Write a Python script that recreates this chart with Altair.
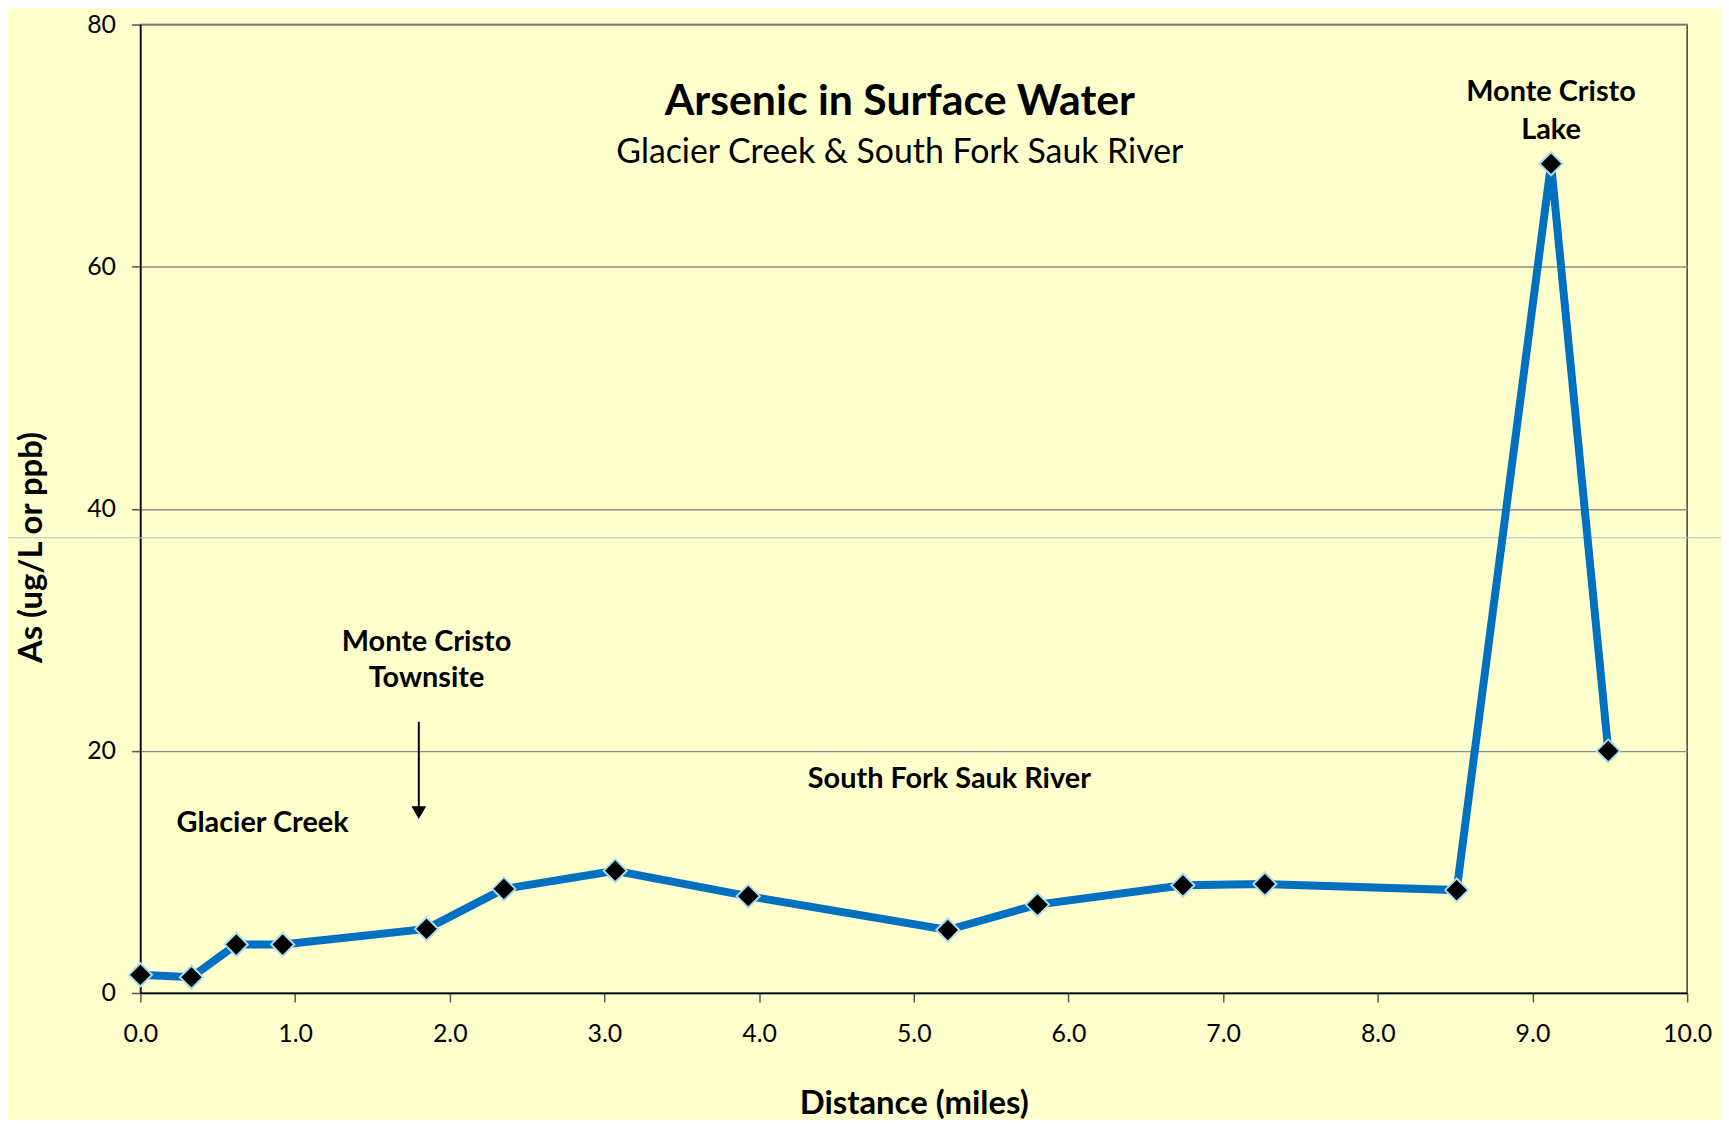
import altair as alt
import pandas as pd

# Data
distance = [0.0, 0.33, 0.62, 0.92, 1.85, 2.35, 3.07, 3.93, 5.22, 5.80, 6.74, 7.27, 8.51, 9.12, 9.49]
arsenic = [1.5, 1.3, 4.0, 4.0, 5.3, 8.6, 10.1, 8.0, 5.2, 7.3, 8.9, 9.0, 8.5, 68.5, 20.0]

x_ticks = [0, 1, 2, 3, 4, 5, 6, 7, 8, 9, 10]
y_ticks = [0, 20, 40, 60, 80]

title_text = "Arsenic in Surface Water"
subtitle_text = "Glacier Creek & South Fork Sauk River"

label_text = ["Monte Cristo", "Lake", "Monte Cristo", "Townsite", "Glacier Creek", "South Fork Sauk River"]
label_x = [9.12, 9.12, 1.85, 1.85, 0.79, 5.23]
label_y = [74.4, 71.3, 29.0, 26.0, 14.0, 17.7]

arrow_x = [1.80]
arrow_y_top = [22.4]
arrow_y_bottom = [14.9]

faint_line_y = [37.6]

FONT = "Lato"
BG = "#FFFFCC"

df = pd.DataFrame({"distance": distance, "arsenic": arsenic})
labels = pd.DataFrame({"text": label_text, "x": label_x, "y": label_y})
arrow = pd.DataFrame({"x": arrow_x, "y": arrow_y_top, "y2": arrow_y_bottom})
faint = pd.DataFrame({"y": faint_line_y})
titles = pd.DataFrame({"text": [title_text, subtitle_text], "x": [4.91, 4.91], "y": [73.6, 69.4],
                       "kind": ["t", "s"]})

xscale = alt.Scale(domain=[0, 10], nice=False, zero=False)
yscale = alt.Scale(domain=[0, 80], nice=False)

base = alt.Chart(df)

line = base.mark_line(color="#0070C0", strokeWidth=8).encode(
    x=alt.X("distance:Q", scale=xscale,
            axis=alt.Axis(title="Distance (miles)", values=x_ticks, format=".1f",
                          grid=False, tickSize=9, labelPadding=20, titlePadding=41,
                          labelFlush=False)),
    y=alt.Y("arsenic:Q", scale=yscale,
            axis=alt.Axis(title="As (ug/L or ppb)", values=y_ticks, format="d",
                          grid=True, tickSize=9, labelPadding=16, titlePadding=38,
                          titleY=525, labelFlush=False)),
)

points = base.mark_point(shape="diamond", filled=True, fill="black", stroke="#A8DDF0",
                         strokeWidth=2, size=540, opacity=1).encode(
    x="distance:Q", y="arsenic:Q"
)

text_layer = alt.Chart(labels).mark_text(font=FONT, fontSize=29, fontWeight="bold",
                                         color="black", align="center", baseline="middle").encode(
    x="x:Q", y="y:Q", text="text:N"
)

title_layer = alt.Chart(titles[titles.kind == "t"]).mark_text(
    font=FONT, fontSize=43, fontWeight="bold", color="black", align="center", baseline="middle"
).encode(x="x:Q", y="y:Q", text="text:N")

subtitle_layer = alt.Chart(titles[titles.kind == "s"]).mark_text(
    font=FONT, fontSize=34, color="black", align="center", baseline="middle"
).encode(x="x:Q", y="y:Q", text="text:N")

arrow_shaft = alt.Chart(arrow).mark_rule(color="black", strokeWidth=2).encode(
    x="x:Q", y="y:Q", y2="y2:Q"
)
arrow_head = alt.Chart(arrow).mark_point(shape="triangle-down", filled=True, fill="black",
                                         size=220, opacity=1).encode(
    x="x:Q", y=alt.Y("y2:Q")
)

faint_rule = alt.Chart(faint).mark_rule(color="#A9BFCC", strokeWidth=1).encode(
    y="y:Q", x=alt.value(-133), x2=alt.value(1554 + 34)
)

chart = alt.layer(
    faint_rule, arrow_shaft, arrow_head, line, points, text_layer, title_layer, subtitle_layer
).properties(
    width=1554, height=973, background=BG,
    padding={"left": 133, "top": 14, "right": 34, "bottom": 125},
    autosize=alt.AutoSizeParams(type="none"),
).configure_view(
    stroke="#444444", strokeWidth=1.5, fill=BG
).configure_axis(
    labelFont=FONT, labelFontSize=25, labelColor="black",
    titleFont=FONT, titleFontSize=33, titleFontWeight="bold", titleColor="black",
    domainColor="black", domainWidth=1.5, tickColor="#555555", tickWidth=1.5,
    gridColor="#8C8C8C", gridWidth=1.5,
)

chart.save("out.html", embed_options={"renderer": "svg", "actions": False})
